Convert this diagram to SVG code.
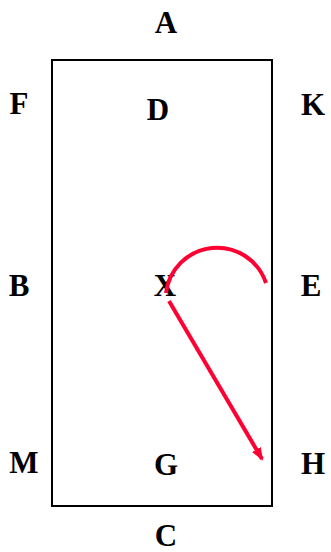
<svg xmlns="http://www.w3.org/2000/svg" width="331" height="552" viewBox="0 0 331 552">
<style>
text{font-family:"Liberation Serif","Times New Roman",serif;font-weight:bold;font-size:31px;text-anchor:middle;fill:#000}
.red{fill:none;stroke:#ff0033;stroke-width:4}
</style>
<defs>
<marker id="ah" markerWidth="13" markerHeight="10" refX="11" refY="5" orient="auto" markerUnits="userSpaceOnUse">
<path d="M0,0 L13,5 L0,10 z" fill="#ff0033"/>
</marker>
</defs>
<rect x="52" y="60" width="220" height="446" fill="none" stroke="#000" stroke-width="2"/>
<g id="A"><text x="166" y="33">A</text></g>
<g id="F"><text x="19" y="114">F</text></g>
<g id="D"><text x="158" y="120">D</text></g>
<g id="K"><text x="313" y="115">K</text></g>
<g id="B"><text x="19" y="296">B</text></g>
<g id="X"><text x="165" y="296">X</text></g>
<g id="E"><text x="311" y="296">E</text></g>
<g id="M"><text x="24" y="473">M</text></g>
<g id="G"><text x="166" y="475">G</text></g>
<g id="H"><text x="313" y="474">H</text></g>
<g id="C"><text x="166" y="546">C</text></g>
<g id="connectors">
<path class="red" d="M166,293 A51.5,51.5 0 0 1 266,283"/>
<path class="red" d="M169,301 L262,459" marker-end="url(#ah)"/>
</g>
</svg>
